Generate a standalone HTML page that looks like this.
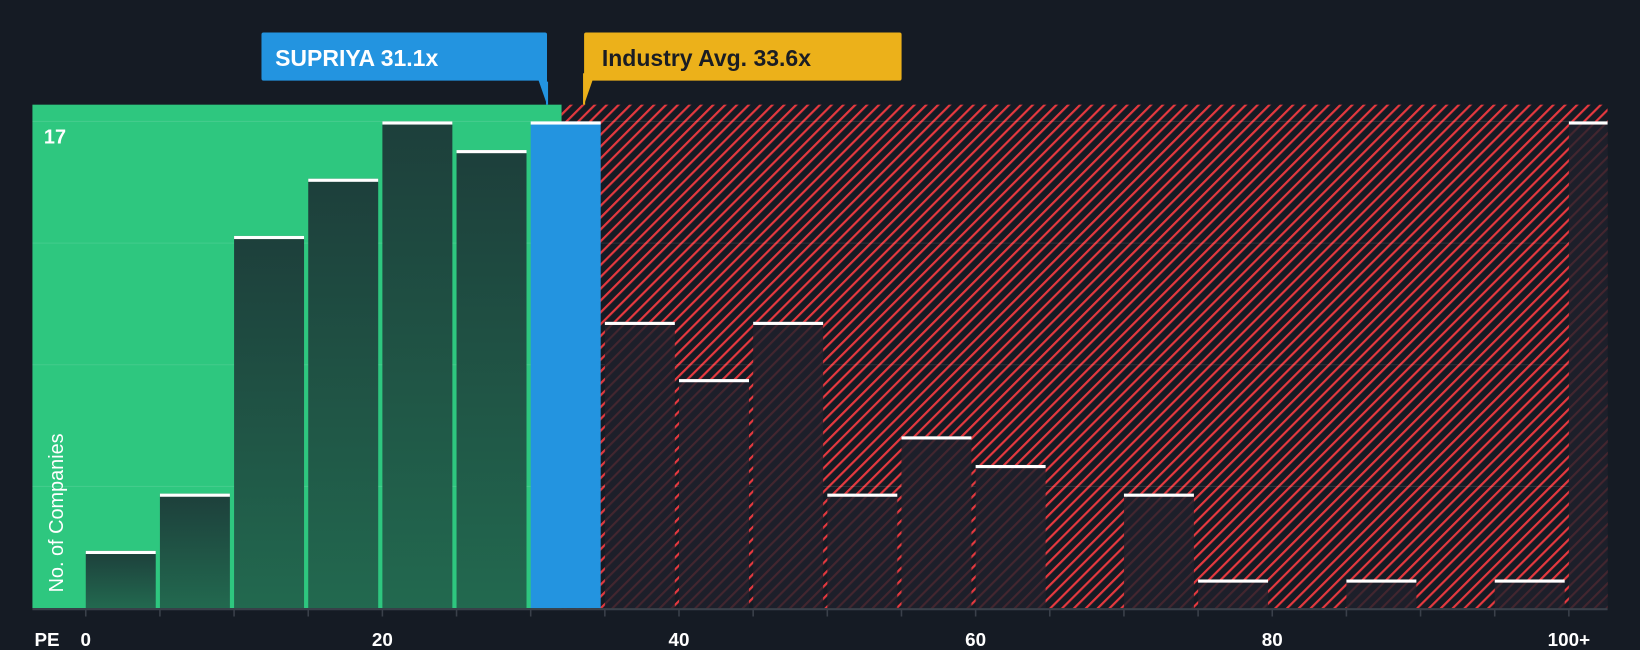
<!DOCTYPE html>
<html><head><meta charset="utf-8"><style>
html,body{margin:0;padding:0;background:#151b24;}
svg{display:block;font-family:"Liberation Sans",sans-serif;}
</style></head><body>
<svg id="chart" width="1640" height="650" viewBox="0 0 1568 621" preserveAspectRatio="none" xmlns="http://www.w3.org/2000/svg">
<defs>
<pattern id="hatch" width="8" height="8" patternUnits="userSpaceOnUse" patternTransform="rotate(45)">
<rect width="8" height="8" fill="#151b24"/>
<line x1="1" y1="0" x2="1" y2="8" stroke="#e5393f" stroke-width="2.2"/>
</pattern>
<pattern id="hatchDim" width="8" height="8" patternUnits="userSpaceOnUse" patternTransform="rotate(45)">
<rect width="8" height="8" fill="#1d1f2a"/>
<line x1="1" y1="0" x2="1" y2="8" stroke="#43262f" stroke-width="2"/>
</pattern>
<linearGradient id="gbar" x1="0" y1="0" x2="0" y2="1">
<stop offset="0" stop-color="#1d3f3b"/><stop offset="1" stop-color="#22694f"/>
</linearGradient>
</defs>
<g id="plot"></g>
</svg>
<script>
const binStarts=[0,5,10,15,20,25,30,35,40,45,50,55,60,65,70,75,80,85,90,95,100];
const counts=[2,4,13,15,17,16,17,10,8,10,4,6,5,0,4,1,0,1,0,1,17];
const xTicks=[0,20,40,60,80,100];
const xTickLabels=["0","20","40","60","80","100+"];
const companyPE=31.1;
const industryPE=33.6;
const yMax=17;

const NS="http://www.w3.org/2000/svg";
const g=document.getElementById('plot');
const L=31,R=1537,T=100,B=581;
const x=v=>82+v*(1500-82)/100;
const y=v=>B-v*(B-116)/yMax;
function mk(tag,attrs,parent){const e=document.createElementNS(NS,tag);for(const k in attrs)e.setAttribute(k,attrs[k]);(parent||g).appendChild(e);return e;}

const greenEnd=537;
let e=mk('rect',{x:L,y:T,width:greenEnd-L,height:B-T,fill:'#2ec77f'});


e=mk('rect',{x:greenEnd,y:T,width:R-greenEnd,height:B-T,fill:'url(#hatch)'});


for(let i=1;i<=4;i++){const gy=y(yMax*i/4);
e=mk('line',{x1:L,x2:R,y1:gy,y2:gy,stroke:'rgba(255,255,255,0.1)','stroke-width':1});

}
binStarts.forEach((s,i)=>{
  const c=counts[i]; if(c<=0) return;
  let x0,x1;
  if(s>=100){x0=x(100);x1=R;}else{x0=x(s);x1=x(s+5)-4;}
  const top=y(c);
  let fill;
  if(s<=companyPE&&companyPE<s+5) fill='#2394e0';
  else if(x(s+5)<=greenEnd+1) fill='url(#gbar)';
  else fill='url(#hatchDim)';
  const b=mk('rect',{x:x0,y:top,width:x1-x0,height:B-top,fill:fill});
  
  
  const cap=mk('rect',{x:x0,y:top,width:x1-x0,height:3,fill:'#ffffff'});
  
  
});
e=mk('line',{x1:L,x2:R,y1:B+1,y2:B+1,stroke:'#3a404a','stroke-width':2});


for(let v=0;v<=100;v+=5){
  e=mk('line',{x1:x(v),x2:x(v),y1:B+1,y2:B+8,stroke:'#3a404a','stroke-width':1.5});
  
  
}
xTicks.forEach((v,i)=>{
  const t=mk('text',{x:x(v),y:617,fill:'#fff','font-size':18,'font-weight':'bold','text-anchor':'middle'});
  t.textContent=xTickLabels[i];
  
  
});
e=mk('text',{x:33,y:617,fill:'#fff','font-size':18,'font-weight':'bold'});e.textContent='PE';


e=mk('text',{x:42,y:137,fill:'#fff','font-size':19,'font-weight':'bold'});e.textContent=String(yMax);


e=mk('text',{x:0,y:0,fill:'#fff','font-size':19,transform:'translate(60,566) rotate(-90)'});e.textContent='No. of Companies';


const cx=x(companyPE), ix=x(industryPE);
e=mk('line',{x1:cx,x2:cx,y1:78,y2:T,stroke:'#2394e0','stroke-width':2});


e=mk('path',{d:`M252 31 H${cx-2} Q${cx} 31 ${cx} 33 V${T} L${cx-8} 77 H252 Q250 77 250 75 V33 Q250 31 252 31 Z`,fill:'#2394e0'});


e=mk('text',{x:263,y:63,fill:'#fff','font-size':22,'font-weight':'bold'});e.textContent='SUPRIYA '+companyPE+'x';


e=mk('line',{x1:ix,x2:ix,y1:70,y2:T,stroke:'#ecb11a','stroke-width':2});


e=mk('path',{d:`M${ix} 33 Q${ix} 31 ${ix+2} 31 H860 Q862 31 862 33 V75 Q862 77 860 77 H${ix+8} L${ix} ${T} Z`,fill:'#ecb11a'});


e=mk('text',{x:ix+17,y:63,fill:'#1a1d24','font-size':22,'font-weight':'bold'});e.textContent='Industry Avg. '+industryPE+'x';


</script>
</body></html>
